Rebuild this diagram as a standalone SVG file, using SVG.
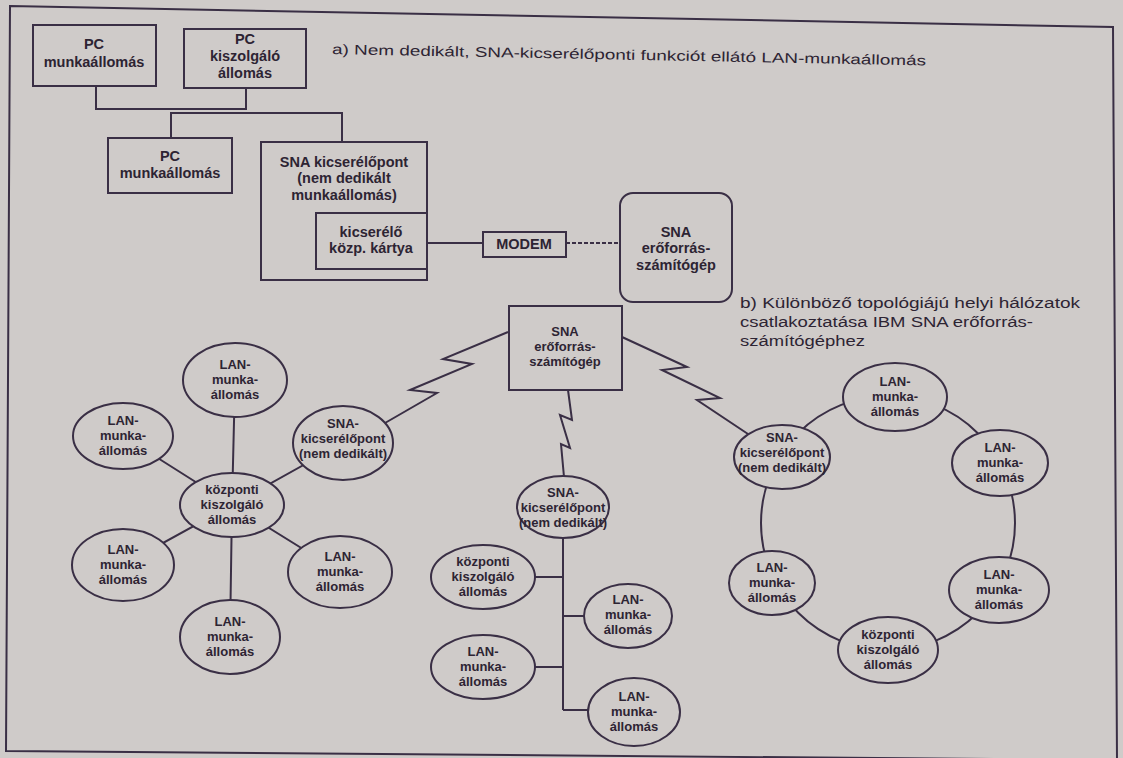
<svg xmlns="http://www.w3.org/2000/svg" width="1123" height="758" viewBox="0 0 1123 758">
<style>
.ln{fill:none;stroke:#3a2f45;stroke-width:2;stroke-linejoin:miter}
.box{fill:#cfcbc9;stroke:#3a2f45;stroke-width:2}
.el{fill:#cfcbc9;stroke:#3a2f45;stroke-width:2}
.t{font-family:"Liberation Sans",Arial,sans-serif;font-weight:bold;font-size:13px;fill:#2d2433;text-anchor:middle}
.tb{font-size:14.5px}
.ti{font-family:"Liberation Sans",Arial,sans-serif;font-size:14px;fill:#2d2433}
</style>
<rect x="0" y="0" width="1123" height="758" fill="#cfcbc9"/>
<polygon points="10,6 1113,27 1117,760 6,751" fill="none" stroke="#3a2f45" stroke-width="2"/>
<g id="connectors">
<path class="ln" d="M96,86 V109 H246 V88"/>
<path class="ln" d="M171,138 V113 H342 V142"/>
<path class="ln" d="M427,243 H483"/>
<path class="ln" d="M566,243 H620" stroke-dasharray="4 2" stroke-width="1.5"/>
<path class="ln" d="M508,332 L443,359 L472,364 L410,390 L437,393 L385,423"/>
<path class="ln" d="M568,390 L572,420 L560,415 L570,448 L561,444 L564,477"/>
<path class="ln" d="M622,337 L687,367 L662,370 L720,398 L697,400 L748,434"/>
<path class="ln" d="M232,505 L235,380 M232,505 L123,436 M232,505 L343,443 M232,505 L123,565 M232,505 L340,572 M232,505 L230,637"/>
<path class="ln" d="M563,537 V710 M483,577 H563 M563,616 H628 M483,667 H563 M563,710 H634"/>
<circle class="ln" cx="888" cy="523" r="127"/>
</g>
<g id="title-a"><text class="ti" x="332" y="54" textLength="594" lengthAdjust="spacingAndGlyphs" transform="rotate(1.1 332 54)">a) Nem dedikált, SNA-kicserélőponti funkciót ellátó LAN-munkaállomás</text></g>
<g id="title-b">
<text class="ti" x="740" y="308" textLength="340" lengthAdjust="spacingAndGlyphs">b) Különböző topológiájú helyi hálózatok</text>
<text class="ti" x="740" y="327" textLength="293" lengthAdjust="spacingAndGlyphs">csatlakoztatása IBM SNA erőforrás-</text>
<text class="ti" x="740" y="346" textLength="125" lengthAdjust="spacingAndGlyphs">számítógéphez</text>
</g>
<g id="pc1"><rect class="box" x="33" y="25" width="123" height="61"/><text class="t tb" x="94" y="49">PC</text><text class="t tb" x="94" y="67">munkaállomás</text></g>
<g id="pcsrv"><rect class="box" x="184" y="29" width="122" height="59"/><text class="t tb" x="245" y="44">PC</text><text class="t tb" x="245" y="61">kiszolgáló</text><text class="t tb" x="245" y="78">állomás</text></g>
<g id="pc2"><rect class="box" x="108" y="138" width="124" height="55"/><text class="t tb" x="170" y="161">PC</text><text class="t tb" x="170" y="178">munkaállomás</text></g>
<g id="snaxp"><rect class="box" x="261" y="142" width="166" height="138"/><text class="t tb" x="344" y="167">SNA kicserélőpont</text><text class="t tb" x="344" y="183">(nem dedikált</text><text class="t tb" x="344" y="200">munkaállomás)</text></g>
<g id="card"><rect class="box" x="316" y="213" width="111" height="56"/><text class="t tb" x="371" y="237">kicserélő</text><text class="t tb" x="371" y="253">közp. kártya</text></g>
<g id="modem"><rect class="box" x="483" y="232" width="83" height="25"/><text class="t tb" x="524" y="249">MODEM</text></g>
<g id="host-a"><rect class="box" x="620" y="193" width="112" height="109" rx="13"/><text class="t tb" x="676" y="237">SNA</text><text class="t tb" x="676" y="253">erőforrás-</text><text class="t tb" x="676" y="270">számítógép</text></g>
<g id="host-b"><rect class="box" x="509" y="306" width="113" height="84"/><text class="t" x="565" y="336">SNA</text><text class="t" x="565" y="351">erőforrás-</text><text class="t" x="565" y="366">számítógép</text></g>
<g id="star-center"><ellipse class="el" cx="232" cy="505" rx="52" ry="32"/><text class="t" x="232" y="494">központi</text><text class="t" x="232" y="509">kiszolgáló</text><text class="t" x="232" y="524">állomás</text></g>
<g id="star-top"><ellipse class="el" cx="235" cy="380" rx="52" ry="37"/><text class="t" x="235" y="369">LAN-</text><text class="t" x="235" y="384">munka-</text><text class="t" x="235" y="399">állomás</text></g>
<g id="star-ul"><ellipse class="el" cx="123" cy="436" rx="50" ry="33"/><text class="t" x="123" y="425">LAN-</text><text class="t" x="123" y="440">munka-</text><text class="t" x="123" y="455">állomás</text></g>
<g id="star-sna"><ellipse class="el" cx="343" cy="443" rx="50" ry="37"/><text class="t" x="343" y="428">SNA-</text><text class="t" x="343" y="443">kicserélőpont</text><text class="t" x="343" y="458">(nem dedikált)</text></g>
<g id="star-ll"><ellipse class="el" cx="123" cy="565" rx="51" ry="36"/><text class="t" x="123" y="554">LAN-</text><text class="t" x="123" y="569">munka-</text><text class="t" x="123" y="584">állomás</text></g>
<g id="star-r"><ellipse class="el" cx="340" cy="572" rx="52" ry="36"/><text class="t" x="340" y="561">LAN-</text><text class="t" x="340" y="576">munka-</text><text class="t" x="340" y="591">állomás</text></g>
<g id="star-bot"><ellipse class="el" cx="230" cy="637" rx="50" ry="37"/><text class="t" x="230" y="626">LAN-</text><text class="t" x="230" y="641">munka-</text><text class="t" x="230" y="656">állomás</text></g>
<g id="bus-sna"><ellipse class="el" cx="563" cy="507" rx="46" ry="31"/><text class="t" x="563" y="497">SNA-</text><text class="t" x="563" y="512">kicserélőpont</text><text class="t" x="563" y="527">(nem dedikált)</text></g>
<g id="bus-kozp"><ellipse class="el" cx="483" cy="577" rx="52" ry="32"/><text class="t" x="483" y="566">központi</text><text class="t" x="483" y="581">kiszolgáló</text><text class="t" x="483" y="596">állomás</text></g>
<g id="bus-lan1"><ellipse class="el" cx="628" cy="616" rx="44" ry="32"/><text class="t" x="628" y="604">LAN-</text><text class="t" x="628" y="619">munka-</text><text class="t" x="628" y="634">állomás</text></g>
<g id="bus-lan2"><ellipse class="el" cx="483" cy="667" rx="52" ry="32"/><text class="t" x="483" y="656">LAN-</text><text class="t" x="483" y="671">munka-</text><text class="t" x="483" y="686">állomás</text></g>
<g id="bus-lan3"><ellipse class="el" cx="634" cy="712" rx="46" ry="34"/><text class="t" x="634" y="701">LAN-</text><text class="t" x="634" y="716">munka-</text><text class="t" x="634" y="731">állomás</text></g>
<g id="ring-top"><ellipse class="el" cx="895" cy="397" rx="52" ry="34"/><text class="t" x="895" y="386">LAN-</text><text class="t" x="895" y="401">munka-</text><text class="t" x="895" y="416">állomás</text></g>
<g id="ring-sna"><ellipse class="el" cx="782" cy="457" rx="48" ry="32"/><text class="t" x="782" y="442">SNA-</text><text class="t" x="782" y="457">kicserélőpont</text><text class="t" x="782" y="472">(nem dedikált)</text></g>
<g id="ring-ru"><ellipse class="el" cx="1000" cy="463" rx="48" ry="33"/><text class="t" x="1000" y="452">LAN-</text><text class="t" x="1000" y="467">munka-</text><text class="t" x="1000" y="482">állomás</text></g>
<g id="ring-rl"><ellipse class="el" cx="999" cy="590" rx="50" ry="33"/><text class="t" x="999" y="579">LAN-</text><text class="t" x="999" y="594">munka-</text><text class="t" x="999" y="609">állomás</text></g>
<g id="ring-bot"><ellipse class="el" cx="888" cy="650" rx="50" ry="33"/><text class="t" x="888" y="639">központi</text><text class="t" x="888" y="654">kiszolgáló</text><text class="t" x="888" y="669">állomás</text></g>
<g id="ring-ll"><ellipse class="el" cx="772" cy="583" rx="43" ry="32"/><text class="t" x="772" y="572">LAN-</text><text class="t" x="772" y="587">munka-</text><text class="t" x="772" y="602">állomás</text></g>
</svg>
